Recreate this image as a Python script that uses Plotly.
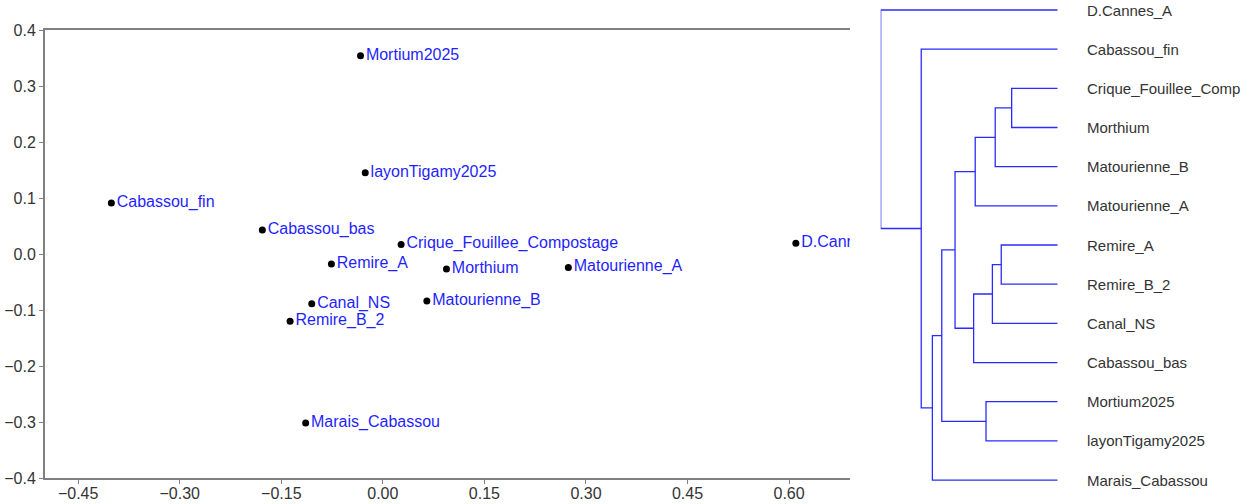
import plotly.graph_objects as go

# ---- PCA-like scatter data ----
sites = ["Mortium2025", "layonTigamy2025", "Cabassou_fin", "Cabassou_bas",
         "Crique_Fouillee_Compostage", "D.Cannes_A", "Remire_A", "Morthium",
         "Matourienne_A", "Matourienne_B", "Canal_NS", "Remire_B_2", "Marais_Cabassou"]
axis1 = [-0.033, -0.026, -0.401, -0.178, 0.027, 0.610, -0.076, 0.094,
         0.274, 0.065, -0.105, -0.137, -0.114]
axis2 = [0.354, 0.145, 0.091, 0.043, 0.017, 0.019, -0.018, -0.027,
         -0.024, -0.084, -0.089, -0.120, -0.302]

x_ticks = [-0.45, -0.30, -0.15, 0.00, 0.15, 0.30, 0.45, 0.60]
y_ticks = [-0.4, -0.3, -0.2, -0.1, 0.0, 0.1, 0.2, 0.3, 0.4]

# ---- Dendrogram data ----
leaf_order = ["D.Cannes_A", "Cabassou_fin", "Crique_Fouillee_Compostage", "Morthium",
              "Matourienne_B", "Matourienne_A", "Remire_A", "Remire_B_2", "Canal_NS",
              "Cabassou_bas", "Mortium2025", "layonTigamy2025", "Marais_Cabassou"]
merge_names = ["G", "J", "F", "I", "K", "E", "H", "D", "C", "B", "A", "R"]
merge_left = ["Crique_Fouillee_Compostage", "Remire_A", "G", "J", "Mortium2025", "F",
              "I", "E", "D", "C", "Cabassou_fin", "D.Cannes_A"]
merge_right = ["Morthium", "Remire_B_2", "Matourienne_B", "Canal_NS", "layonTigamy2025",
               "Matourienne_A", "Cabassou_bas", "H", "K", "Marais_Cabassou", "B", "A"]
merge_height = [0.260, 0.319, 0.353, 0.369, 0.405, 0.466, 0.475, 0.580, 0.655, 0.708, 0.771, 1.0]

W, H = 1257, 504
fig = go.Figure()

fig.add_trace(go.Scatter(
    x=axis1, y=axis2, mode="markers+text", text=sites,
    textposition="middle right",
    textfont=dict(family="Liberation Sans, Arial", size=16, color="#1f1fff"),
    marker=dict(color="black", size=7),
    cliponaxis=True, xaxis="x", yaxis="y", showlegend=False, hoverinfo="skip"))

# dendrogram
pos = {n: (0.0, i) for i, n in enumerate(leaf_order)}
lx, ly = [], []
for n, a, b, h in zip(merge_names, merge_left, merge_right, merge_height):
    ha, ya = pos[a]
    hb, yb = pos[b]
    lx += [ha, h, h, hb, None]
    ly += [ya, ya, yb, yb, None]
    pos[n] = (h, (ya + yb) / 2)

fig.add_trace(go.Scatter(
    x=lx, y=ly, mode="lines", line=dict(color="#2b2bff", width=1.3),
    xaxis="x2", yaxis="y2", showlegend=False, hoverinfo="skip"))

for i, n in enumerate(leaf_order):
    fig.add_annotation(x=0, y=i, xref="x2", yref="y2", text=n[:20], showarrow=False,
                       xanchor="left", yanchor="middle", xshift=27,
                       font=dict(family="Liberation Sans, Arial", size=15, color="#333333"))

px_per = 39.17
top_pad = 10
tick_font = dict(family="Liberation Sans, Arial", size=16, color="#333333")
fig.update_layout(
    width=W, height=H, margin=dict(l=0, r=0, t=0, b=0, pad=0), autosize=False,
    paper_bgcolor="white", plot_bgcolor="white",
    xaxis=dict(domain=[45 / W, 850 / W], range=[-0.499, 0.69], automargin=False,
               tickvals=x_ticks, tickformat=".2f", showgrid=False, zeroline=False,
               showline=True, linecolor="#808080", linewidth=2, mirror=True,
               ticks="outside", ticklen=4, tickcolor="#808080", tickwidth=1,
               ticklabelstandoff=-4,
               tickfont=tick_font, anchor="y"),
    yaxis=dict(domain=[1 - 478 / H, 1 - 30 / H], range=[-0.4, 0.4], automargin=False,
               tickvals=y_ticks, tickformat=".1f", showgrid=False, zeroline=False,
               showline=True, linecolor="#808080", linewidth=2,
               ticks="outside", ticklen=4, tickcolor="#808080", tickwidth=1,
               tickfont=tick_font, anchor="x"),
    xaxis2=dict(domain=[880.7 / W, 1057.7 / W], range=[1.0, 0.0], visible=False,
                automargin=False, anchor="y2"),
    yaxis2=dict(domain=[0, 1], range=[(H - top_pad) / px_per, -top_pad / px_per],
                visible=False, anchor="x2", automargin=False),
)

fig.write_html("out.html")
